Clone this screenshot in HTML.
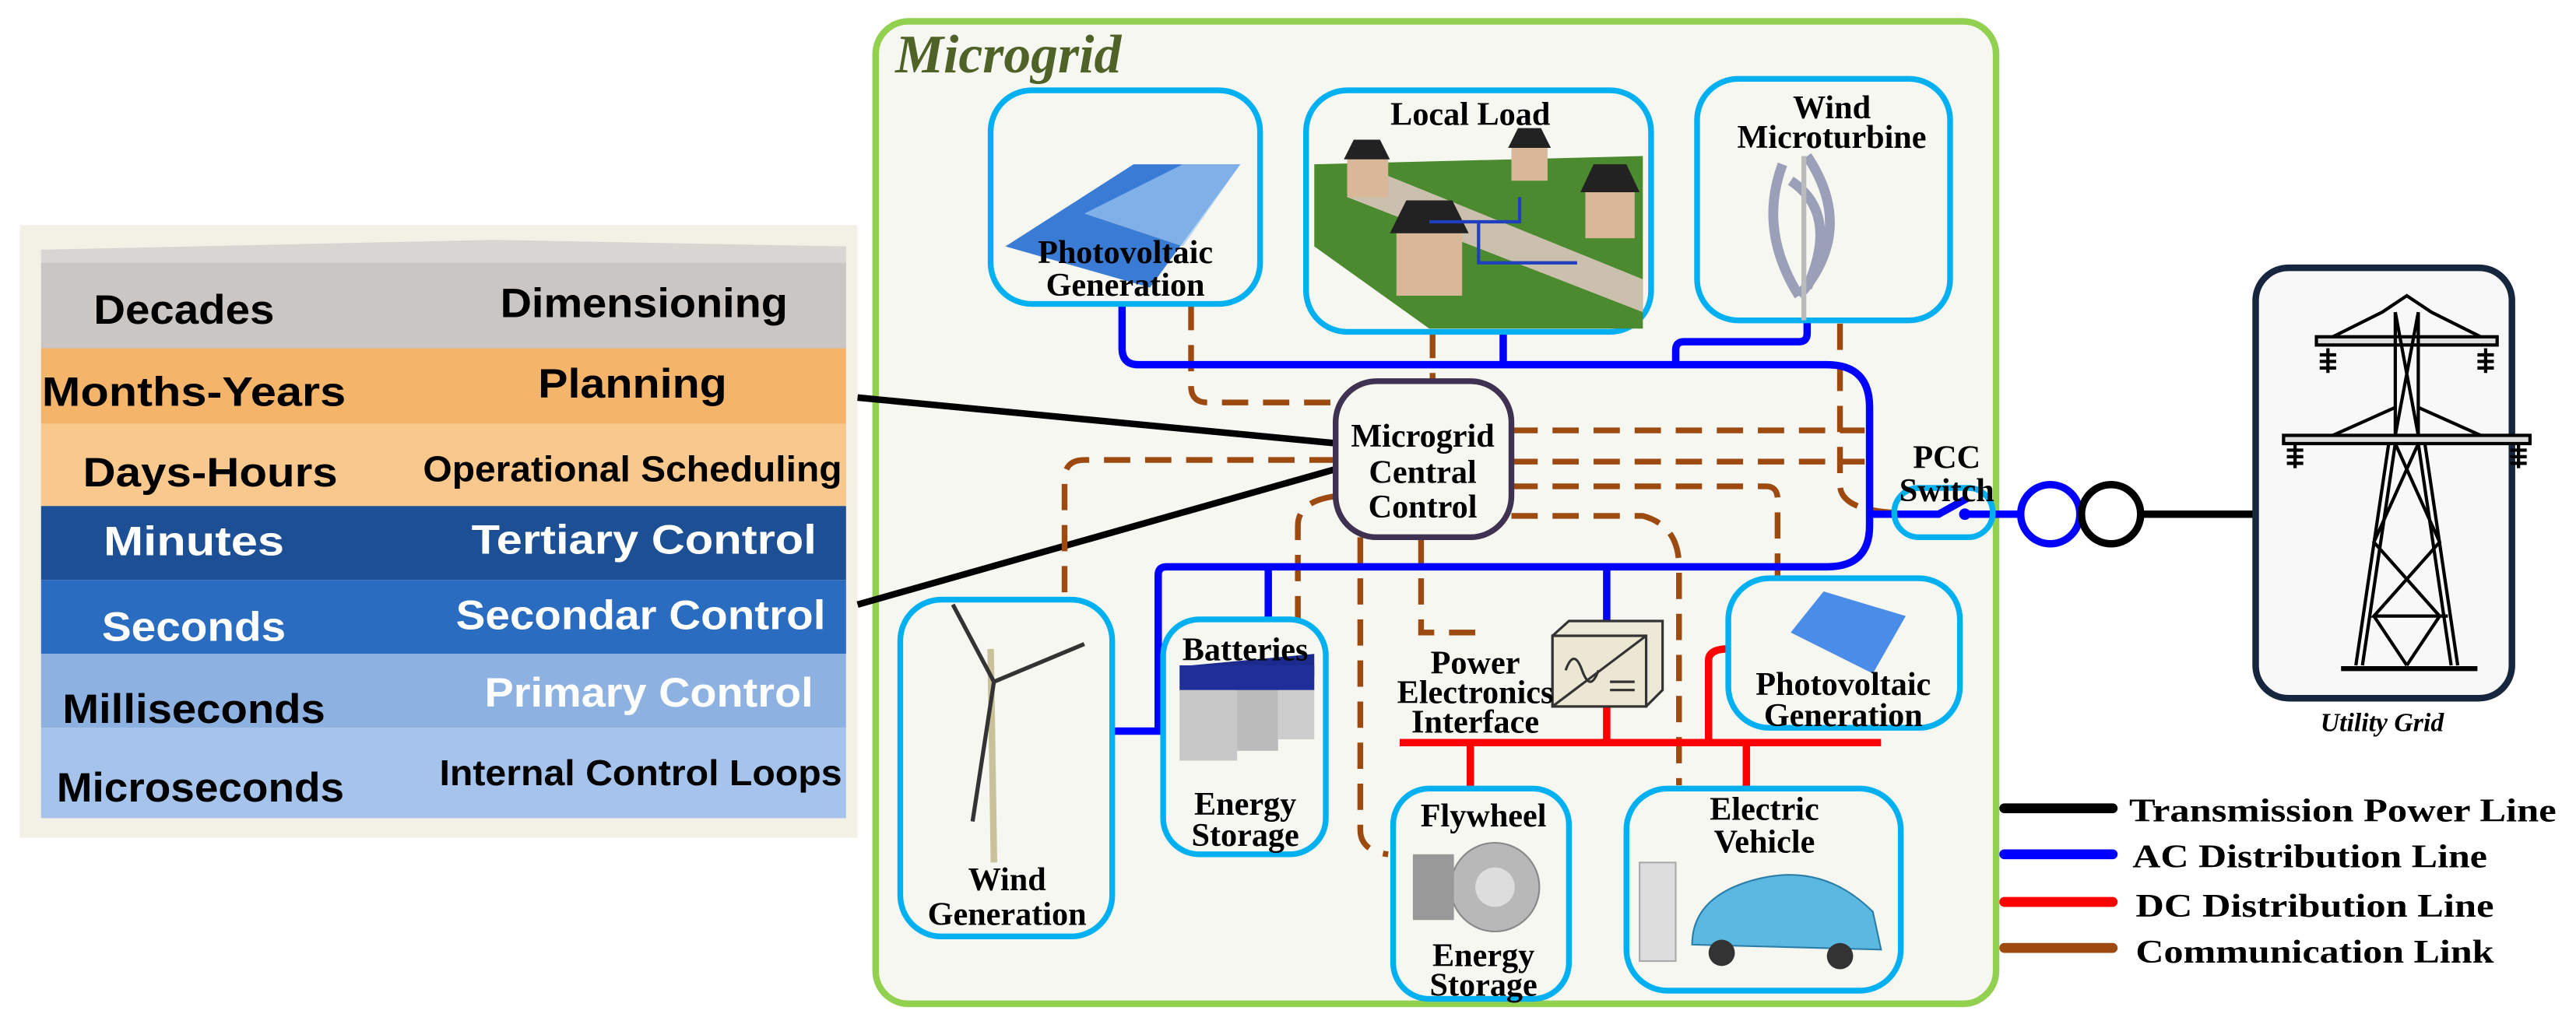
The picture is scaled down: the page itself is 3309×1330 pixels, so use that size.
<!DOCTYPE html>
<html><head><meta charset="utf-8"><style>html,body{margin:0;padding:0;background:#fff}svg{display:block}</style></head>
<body>
<svg xmlns="http://www.w3.org/2000/svg" width="3309" height="1330" viewBox="0 0 1568 630" preserveAspectRatio="none">
<rect width="1568" height="630" fill="#fff"/>
<rect x="12" y="137" width="510" height="373" fill="#f3f1e6"/>
<polygon points="25,152 300,146 515,150 515,162 25,162" fill="#d8d5d3"/>
<polygon points="25,160 515,160 515,212 25,212" fill="#c9c6c4"/>
<polygon points="25,212 515,212 515,258 25,258" fill="#f4b46a"/>
<polygon points="25,258 515,258 515,308 25,308" fill="#f9c88c"/>
<polygon points="25,308 515,308 515,353 25,353" fill="#1d4f94"/>
<polygon points="25,353 515,353 515,398 25,398" fill="#2a6cc0"/>
<polygon points="25,398 515,398 515,443 25,443" fill="#8db2e2"/>
<polygon points="25,443 515,443 515,498 25,498" fill="#a5c3eb"/>
<g font-family="Liberation Sans, sans-serif" font-weight="bold" font-size="25" text-anchor="middle">
<text x="112" y="197" textLength="110" lengthAdjust="spacingAndGlyphs">Decades</text>
<text x="392" y="193" textLength="175" lengthAdjust="spacingAndGlyphs">Dimensioning</text>
<text x="118" y="247" textLength="185" lengthAdjust="spacingAndGlyphs">Months-Years</text>
<text x="385" y="242" textLength="115" lengthAdjust="spacingAndGlyphs">Planning</text>
<text x="128" y="296" textLength="155" lengthAdjust="spacingAndGlyphs">Days-Hours</text>
<text x="385" y="293" font-size="22" textLength="255" lengthAdjust="spacingAndGlyphs">Operational Scheduling</text>
<text x="118" y="338" fill="#fff" textLength="110" lengthAdjust="spacingAndGlyphs">Minutes</text>
<text x="392" y="337" fill="#fff" textLength="210" lengthAdjust="spacingAndGlyphs">Tertiary Control</text>
<text x="118" y="390" fill="#fff" textLength="112" lengthAdjust="spacingAndGlyphs">Seconds</text>
<text x="390" y="383" fill="#fff" textLength="225" lengthAdjust="spacingAndGlyphs">Secondar Control</text>
<text x="118" y="440" textLength="160" lengthAdjust="spacingAndGlyphs">Milliseconds</text>
<text x="395" y="430" fill="#fff" textLength="200" lengthAdjust="spacingAndGlyphs">Primary Control</text>
<text x="122" y="488" textLength="175" lengthAdjust="spacingAndGlyphs">Microseconds</text>
<text x="390" y="478" font-size="22" textLength="245" lengthAdjust="spacingAndGlyphs">Internal Control Loops</text>
</g>
<rect x="533" y="13" width="682" height="598" rx="20" fill="#f7f7f1" stroke="#92d050" stroke-width="4"/>
<text x="545" y="44" font-family="Liberation Serif, serif" font-style="italic" font-weight="bold" font-size="33" fill="#4f6228">Microgrid</text>

<line x1="522" y1="242" x2="815" y2="270" stroke="#000" stroke-width="4"/>
<line x1="522" y1="368" x2="815" y2="285" stroke="#000" stroke-width="4"/>

<g fill="none" stroke="#9c4a10" stroke-width="3.5" stroke-dasharray="16,9">
<path d="M725,185 V235 Q725,245 735,245 H813"/>
<path d="M872,202 V232"/>
<path d="M920,262 H1135"/>
<path d="M920,281 H1135"/>
<path d="M920,296 H1075 Q1082,296 1082,304 V352"/>
<path d="M920,314 H1000 Q1022,320 1022,345 V478"/>
<path d="M813,280 H660 Q648,280 648,292 V365"/>
<path d="M813,302 Q790,305 790,320 V377"/>
<path d="M828,327 V505 Q828,518 845,520"/>
<path d="M865,327 V385 H900"/>
<path d="M1120,197 V295 Q1120,310 1152,312"/>
</g>

<g fill="none" stroke="#0000ff" stroke-width="4.5">
<path d="M683,185 V212 Q683,222 693,222 H1112 Q1138,222 1138,248 V320 Q1138,345 1112,345 H710 Q705,345 705,350 V445 H677"/>
<path d="M915,202 V222"/>
<path d="M1100,195 V203 Q1100,208 1095,208 H1025 Q1020,208 1020,213 V222"/>
<path d="M772,345 V377"/>
<path d="M978,345 V378"/>
<path d="M1138,313 H1165 L1180,313 L1198,303"/>
<path d="M1196,313 H1230"/>
</g>
<circle cx="1196" cy="313" r="3.5" fill="#0000ff"/>
<circle cx="1248" cy="313" r="18" fill="none" stroke="#0000ff" stroke-width="4.5"/>
<circle cx="1285" cy="313" r="18" fill="none" stroke="#000" stroke-width="4.5"/>
<line x1="1303" y1="313" x2="1375" y2="313" stroke="#000" stroke-width="4.5"/>

<g fill="none" stroke="#ff0000" stroke-width="4.5">
<path d="M852,452 H1145"/>
<path d="M978,430 V452"/>
<path d="M895,452 V480"/>
<path d="M1063,452 V480"/>
<path d="M1040,452 V402 Q1040,395 1052,395"/>
</g>

<g fill="none" stroke="#00b0f0" stroke-width="3.5">
<rect x="603" y="55" width="164" height="130" rx="25"/>
<rect x="795" y="55" width="210" height="147" rx="25"/>
<rect x="1033" y="48" width="154" height="147" rx="25"/>
<rect x="548" y="365" width="129" height="205" rx="25"/>
<rect x="708" y="377" width="99" height="143" rx="22"/>
<rect x="1052" y="352" width="141" height="91" rx="25"/>
<rect x="848" y="480" width="107" height="128" rx="22"/>
<rect x="990" y="480" width="167" height="123" rx="25"/>
<rect x="1153" y="297" width="60" height="30" rx="15"/>
</g>

<polygon points="612,150 690,100 755,100 700,175" fill="#3a7bd5"/>
<polygon points="660,130 720,100 755,100 720,150" fill="#9cc8ee" opacity="0.7"/>
<polygon points="800,100 1000,95 1000,200 870,200 800,150" fill="#4b8a2e"/>
<polygon points="840,105 1000,170 1000,190 820,120" fill="#cbbfae"/>
<rect x="820" y="95" width="25" height="25" fill="#d9b89a"/><polygon points="818,97 846,97 840,85 824,85" fill="#222"/>
<rect x="850" y="140" width="40" height="40" fill="#d9b89a"/><polygon points="846,142 894,142 884,122 856,122" fill="#222"/>
<rect x="920" y="88" width="22" height="22" fill="#d9b89a"/><polygon points="918,90 944,90 938,78 924,78" fill="#222"/>
<rect x="965" y="115" width="30" height="30" fill="#d9b89a"/><polygon points="962,117 998,117 990,100 970,100" fill="#222"/>
<path d="M870,135 H925 V120 M900,135 V160 H960" stroke="#1f3fbf" stroke-width="2" fill="none"/>
<path d="M1085,100 Q1070,140 1095,180 M1100,95 Q1130,140 1095,180 M1090,110 Q1120,130 1100,175" stroke="#9aa0b8" stroke-width="6" fill="none"/>
<line x1="1098" y1="95" x2="1098" y2="195" stroke="#bbb" stroke-width="3"/>
<line x1="603" y1="395" x2="605" y2="525" stroke="#c9c19a" stroke-width="4"/>
<line x1="605" y1="415" x2="580" y2="368" stroke="#333" stroke-width="2.5"/>
<line x1="605" y1="415" x2="660" y2="392" stroke="#333" stroke-width="2.5"/>
<line x1="605" y1="415" x2="592" y2="500" stroke="#333" stroke-width="2.5"/>
<rect x="718" y="418" width="35" height="45" fill="#c8c8c8"/><rect x="753" y="415" width="25" height="42" fill="#bbb"/><rect x="778" y="412" width="22" height="38" fill="#ccc"/>
<polygon points="718,418 800,412 800,398 725,405" fill="#1b2a8c"/>
<rect x="718" y="405" width="82" height="15" fill="#1f2f9a"/>
<polygon points="945,387 955,378 1012,378 1012,420 1002,430 945,430" fill="#ece9d8" stroke="#333" stroke-width="1.5"/>
<polygon points="945,387 1002,387 1002,430 945,430" fill="#ebe7d2" stroke="#333" stroke-width="1.5"/>
<line x1="945" y1="430" x2="1002" y2="387" stroke="#333" stroke-width="1.5"/>
<path d="M953,408 q5,-14 10,0 t10,0" stroke="#333" fill="none" stroke-width="1.5"/>
<line x1="980" y1="415" x2="995" y2="415" stroke="#333" stroke-width="1.5"/><line x1="980" y1="420" x2="995" y2="420" stroke="#333" stroke-width="1.5"/>
<polygon points="1090,385 1110,360 1160,375 1140,410" fill="#4a8de8"/>
<circle cx="910" cy="540" r="27" fill="#b8b8b8" stroke="#888"/><circle cx="910" cy="540" r="12" fill="#ddd"/>
<rect x="860" y="520" width="25" height="40" fill="#999"/>
<rect x="998" y="525" width="22" height="60" fill="#ddd" stroke="#aaa"/>
<path d="M1030,575 Q1030,545 1070,535 Q1110,525 1140,555 L1145,578 Z" fill="#5bb8e0" stroke="#2b7ea8"/>
<circle cx="1048" cy="580" r="8" fill="#333"/><circle cx="1120" cy="582" r="8" fill="#333"/>

<rect x="813" y="232" width="107" height="95" rx="25" fill="#f7f7f1" stroke="#3f3151" stroke-width="3.5"/>

<rect x="1373" y="163" width="156" height="262" rx="20" fill="#f8f8f8" stroke="#17263f" stroke-width="4"/>
<g stroke="#000" stroke-width="2" fill="none">
<path d="M1420,205 L1450,190 L1465,180 L1480,190 L1510,205"/>
<rect x="1410" y="205" width="110" height="5" fill="#ddd"/>
<rect x="1390" y="265" width="150" height="5" fill="#ddd"/>
<path d="M1458,190 V265 M1472,190 V265 M1458,190 L1472,265 M1472,190 L1458,265"/>
<path d="M1420,265 L1458,248 M1510,265 L1472,248"/>
<path d="M1458,270 L1438,405 M1472,270 L1492,405 M1454,270 L1434,405 M1476,270 L1496,405"/>
<path d="M1458,270 L1485,330 L1445,375 L1490,375 M1472,270 L1445,330 L1485,375"/>
<path d="M1445,375 L1465,405 M1485,375 L1465,405"/>
<line x1="1425" y1="407" x2="1508" y2="407" stroke-width="3"/>
<path d="M1417,212 v15 M1412,216 h10 M1412,220 h10 M1412,224 h10 M1513,212 v15 M1508,216 h10 M1508,220 h10 M1508,224 h10"/>
<path d="M1397,270 v15 M1392,274 h10 M1392,278 h10 M1392,282 h10 M1533,270 v15 M1528,274 h10 M1528,278 h10 M1528,282 h10"/>
</g>

<g font-family="Liberation Serif, serif" font-weight="bold" font-size="20" text-anchor="middle" fill="#000">
<text x="685" y="160">Photovoltaic</text><text x="685" y="180">Generation</text>
<text x="895" y="76">Local Load</text>
<text x="1115" y="72">Wind</text><text x="1115" y="90">Microturbine</text>
<text x="866" y="272">Microgrid</text><text x="866" y="294">Central</text><text x="866" y="315">Control</text>
<text x="613" y="542">Wind</text><text x="613" y="563">Generation</text>
<text x="758" y="402">Batteries</text>
<text x="758" y="496">Energy</text><text x="758" y="515">Storage</text>
<text x="898" y="410">Power</text><text x="898" y="428">Electronics</text><text x="898" y="446">Interface</text>
<text x="1122" y="423">Photovoltaic</text><text x="1122" y="442">Generation</text>
<text x="903" y="503">Flywheel</text>
<text x="903" y="588">Energy</text><text x="903" y="606">Storage</text>
<text x="1074" y="499">Electric</text><text x="1074" y="519">Vehicle</text>
<text x="1185" y="285">PCC</text><text x="1185" y="305">Switch</text>
<text x="1450" y="445" font-style="italic" font-size="16">Utility Grid</text>
</g>

<g stroke-width="6" stroke-linecap="round">
<line x1="1220" y1="492" x2="1286" y2="492" stroke="#000"/>
<line x1="1220" y1="520" x2="1286" y2="520" stroke="#0000ff"/>
<line x1="1220" y1="549" x2="1286" y2="549" stroke="#ff0000"/>
<line x1="1220" y1="577" x2="1286" y2="577" stroke="#9c4a10"/>
</g>
<g font-family="Liberation Serif, serif" font-weight="bold" font-size="20" fill="#000">
<text x="1296" y="500" textLength="260" lengthAdjust="spacingAndGlyphs">Transmission Power Line</text>
<text x="1298" y="528" textLength="216" lengthAdjust="spacingAndGlyphs">AC Distribution Line</text>
<text x="1300" y="558" textLength="218" lengthAdjust="spacingAndGlyphs">DC Distribution Line</text>
<text x="1300" y="586" textLength="218" lengthAdjust="spacingAndGlyphs">Communication Link</text>
</g>
</svg>
</body></html>
